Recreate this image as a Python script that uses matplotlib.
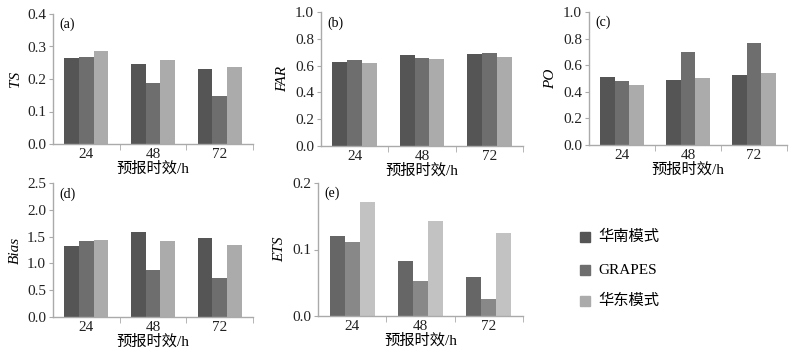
import matplotlib
matplotlib.use("Agg")
import matplotlib.pyplot as plt
import numpy as np

categories = ["24", "48", "72"]
series_names = ["华南模式", "GRAPES", "华东模式"]

ts = [[0.265, 0.245, 0.230], [0.268, 0.187, 0.149], [0.285, 0.257, 0.238]]
far = [[0.63, 0.68, 0.69], [0.64, 0.66, 0.695], [0.62, 0.65, 0.665]]
po = [[0.51, 0.485, 0.53], [0.48, 0.70, 0.77], [0.45, 0.50, 0.54]]
bias = [[1.32, 1.59, 1.48], [1.42, 0.87, 0.73], [1.44, 1.42, 1.35]]
ets = [[0.120, 0.082, 0.059], [0.111, 0.052, 0.025], [0.171, 0.143, 0.125]]

colors = ["#555555", "#6e6e6e", "#ababab"]
colors_e = ["#666666", "#888888", "#c2c2c2"]

FONT = ["Liberation Serif", "Noto Sans CJK SC"]
plt.rcParams['font.family'] = FONT

fig = plt.figure(figsize=(8.0, 3.51), dpi=100)
W, H = 800, 351

def add_ax(x0, y0, x1, y1):
    return fig.add_axes([x0 / W, 1 - y1 / H, (x1 - x0) / W, (y1 - y0) / H])

panels = [
    (add_ax(53, 14, 253, 144), ts, "TS", "(a)", 0.4, 0.1, "{:.1f}", colors),
    (add_ax(321, 12, 523, 146), far, "FAR", "(b)", 1.0, 0.2, "{:.1f}", colors),
    (add_ax(589, 12, 787, 145), po, "PO", "(c)", 1.0, 0.2, "{:.1f}", colors),
    (add_ax(53, 183, 253, 317), bias, "Bias", "(d)", 2.5, 0.5, "{:.1f}", colors),
    (add_ax(318, 183, 523, 316), ets, "ETS", "(e)", 0.2, 0.1, "{:.1f}", colors_e),
]

x = np.arange(len(categories))
bw = 0.22
for ax, data, ylab, tag, ymax, step, fmt, cols in panels:
    for i, vals in enumerate(data):
        ax.bar(x + (i - 1) * bw, vals, width=bw, color=cols[i], edgecolor="none")
    ax.set_xlim(-0.5, 2.5)
    ax.set_ylim(0, ymax)
    yt = np.arange(0, ymax + step / 2, step)
    ax.set_yticks(yt)
    ax.set_yticklabels([fmt.format(v) for v in yt], fontsize=11, color="#222222")
    ax.set_xticks(x)
    ax.set_xticklabels(categories, fontsize=11, color="#222222")
    ax.set_xticks([0.5, 1.5, 2.5], minor=True)
    ax.tick_params(axis="x", which="major", length=0, pad=3)
    ax.tick_params(axis="x", which="minor", length=4, color="#aaaaaa", direction="out")
    ax.tick_params(axis="y", length=3, color="#aaaaaa", pad=2)
    for s in ["top", "right"]:
        ax.spines[s].set_visible(False)
    for s in ["left", "bottom"]:
        ax.spines[s].set_color("#aaaaaa")
        ax.spines[s].set_linewidth(1.0)
    ax.set_ylabel(ylab, fontsize=11, style="italic", family=["Liberation Serif"], labelpad=4)
    ax.set_xlabel("预报时效/h", fontsize=11, labelpad=0)
    ax.text(0.03, 0.97, tag, transform=ax.transAxes, fontsize=10, va="top", ha="left")

# legend
legend_y = [237, 270, 301]
for name, c, yy in zip(series_names, colors, legend_y):
    fig.patches.append(plt.Rectangle((580 / W, 1 - (yy + 5) / H), 10 / W, 10 / H,
                                     transform=fig.transFigure, color=c, figure=fig))
    fig.text(598 / W, 1 - yy / H, name, fontsize=11, va="center", ha="left")

fig.savefig("out.png", dpi=100)
